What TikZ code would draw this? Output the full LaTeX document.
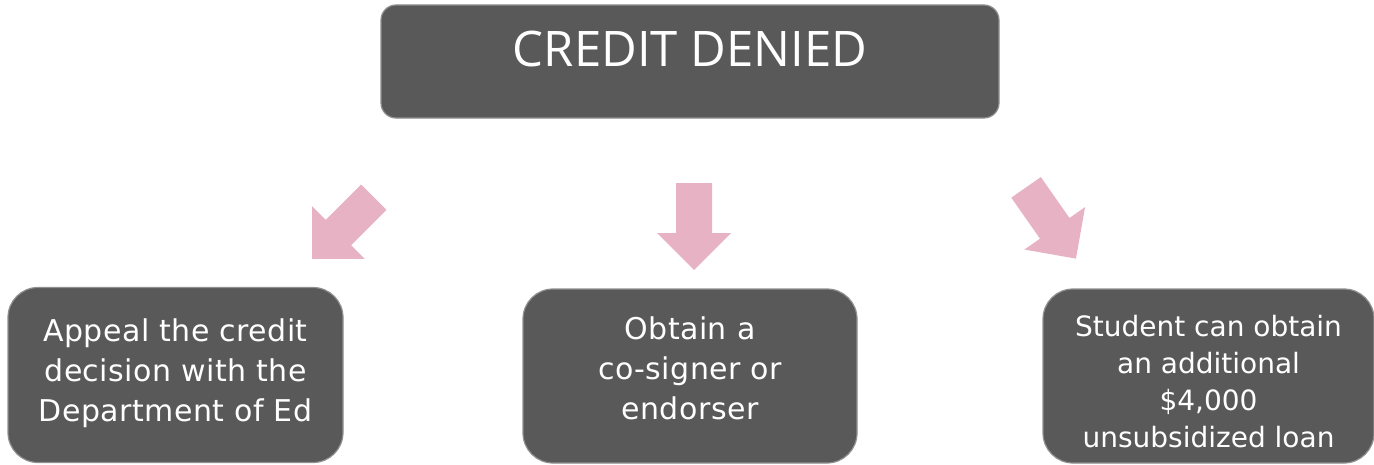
\documentclass[tikz,border=0pt]{standalone}
\usepackage{fontspec}
\setmainfont{DejaVu Sans}
\newfontfamily\titlefont{Open Sans}
\usetikzlibrary{positioning}

\definecolor{boxgray}{HTML}{595959}
\definecolor{boxline}{HTML}{909090}
\definecolor{arrowpink}{HTML}{E6B2C4}

\tikzset{
  topbox/.style={draw=boxline, line width=0.6pt, fill=boxgray, rounded corners=7.5pt,
    minimum width=309pt, minimum height=56.5pt, inner sep=0pt},
  choicebox/.style={draw=boxline, line width=0.6pt, fill=boxgray, rounded corners=15pt,
    minimum width=167.5pt, minimum height=87.5pt, inner sep=0pt},
  choicetext/.style={align=center, text=white,
    font=\fontsize{15}{20}\selectfont\addfontfeatures{LetterSpace=1.5}},
  blockarrow/.pic={
    \fill[arrowpink] (-43.5,-18) -- (6.5,-18) -- (6.5,-37) -- (43.5,0)
      -- (6.5,37) -- (6.5,18) -- (-43.5,18) -- cycle;
  }
}

\begin{document}
\begin{tikzpicture}[x=0.5pt, y=-0.5pt]
        \useasboundingbox (0,0) rectangle (1374,465);
        \node[topbox] (denied) at (690,61.5) {};
        \node[text=white, font=\titlefont\fontsize{24.5}{28}\selectfont] (deniedtext) at (690,49) {CREDIT DENIED};
        \node[choicebox] (appeal) at (175.5,375) {};
        \node[choicetext] (appealtext) at (175.5,373) {Appeal the credit\\decision with the\\Department of Ed};
        \node[choicebox, minimum width=167pt, minimum height=87pt] (cosigner) at (690,376) {};
        \node[choicetext] (cosignertext) at (690,368) {Obtain a\\co-signer or\\endorser};
        \node[choicebox, minimum width=165.5pt, minimum height=87pt] (extraloan) at (1208.5,376) {};
        \node[choicetext, font=\fontsize{14}{18.5}\selectfont] (extraloantext) at (1208.5,382)
          {Student can obtain\\an additional\\\$4,000\\unsubsidized loan};
        % pink block arrows
        \pic[rotate=-135] at (343,228) {blockarrow};
        \pic[rotate=-90] at (694,226.5) {blockarrow};
        \pic[rotate=-55] at (1051,223) {blockarrow};
    \end{tikzpicture}
\end{document}
